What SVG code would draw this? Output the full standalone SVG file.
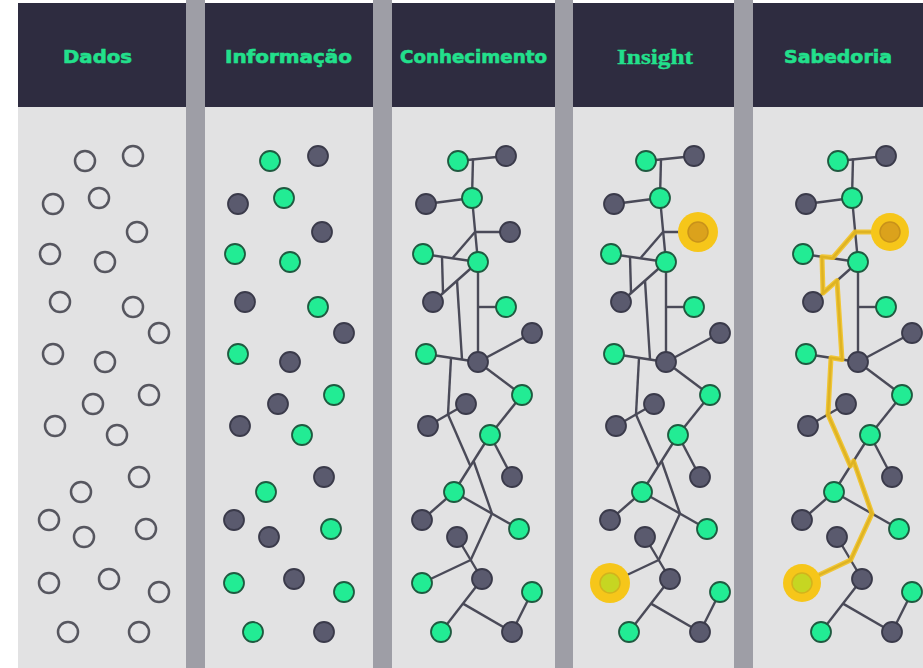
<svg xmlns="http://www.w3.org/2000/svg" width="923" height="668" viewBox="0 0 923 668">
<style>
.bg{fill:#ffffff}
.sep{fill:#9e9ea6}
.hdr{fill:#2e2c40}
.body{fill:#e2e2e3}
.ttl{font-family:"DejaVu Sans","Liberation Sans",sans-serif;font-weight:bold;font-size:18px;fill:#22e08c;stroke:#22e08c;stroke-width:0.6;text-anchor:middle}
.ttls{font-family:"Liberation Serif","DejaVu Serif",serif;font-weight:bold;font-size:22px;fill:#22e08c;stroke:#22e08c;stroke-width:0.4;text-anchor:middle}
.o{fill:#e4e4e6;stroke:#56565f;stroke-width:2.5}
.g{fill:#22ec94;stroke:#1f5a40;stroke-width:1.8}
.d{fill:#5a5a6e;stroke:#3a3a4a;stroke-width:1.8}
.edges{stroke:#4a4a58;stroke-width:2.4;fill:none}
.edges line{stroke:#4a4a58;stroke-width:2.4}
.halo{fill:#f6c61a}
.he{fill:#dba21c;stroke:#c8921a;stroke-width:1.5}
.hv{fill:#c6d622;stroke:#d2b41c;stroke-width:1.5}
.ypath{fill:none;stroke:#f3c11c;stroke-width:5;stroke-linejoin:round;opacity:0.88}
</style>

<g id="background">
<rect class="bg" x="0" y="0" width="923" height="668"/>
<rect class="sep" x="186" y="0" width="19" height="668"/>
<rect class="sep" x="373" y="0" width="19" height="668"/>
<rect class="sep" x="555" y="0" width="18" height="668"/>
<rect class="sep" x="734" y="0" width="19" height="668"/>
<rect class="body" x="18" y="107" width="168" height="561"/>
<rect class="body" x="205" y="107" width="168" height="561"/>
<rect class="body" x="392" y="107" width="163" height="561"/>
<rect class="body" x="573" y="107" width="161" height="561"/>
<rect class="body" x="753" y="107" width="170" height="561"/>
<rect class="hdr" x="18" y="3" width="168" height="104"/>
<rect class="hdr" x="205" y="3" width="168" height="104"/>
<rect class="hdr" x="392" y="3" width="163" height="104"/>
<rect class="hdr" x="573" y="3" width="161" height="104"/>
<rect class="hdr" x="753" y="3" width="170" height="104"/>
</g>

<g id="titles">
<text class="ttl" x="97.5" y="63" textLength="69" lengthAdjust="spacingAndGlyphs">Dados</text>
<text class="ttl" x="288.5" y="63" textLength="127" lengthAdjust="spacingAndGlyphs">Informação</text>
<text class="ttl" x="473.5" y="63" textLength="147" lengthAdjust="spacingAndGlyphs">Conhecimento</text>
<text class="ttls" x="655" y="64" textLength="76" lengthAdjust="spacingAndGlyphs">Insight</text>
<text class="ttl" x="838" y="63" textLength="108" lengthAdjust="spacingAndGlyphs">Sabedoria</text>
</g>

<g id="connectors">
<g id="edges-conhecimento" class="edges" transform="translate(373,0)">
<line x1="85" y1="161" x2="133" y2="156"/>
<line x1="100" y1="158.5" x2="99" y2="198"/>
<line x1="53" y1="204" x2="99" y2="198"/>
<line x1="99" y1="198" x2="105" y2="262"/>
<line x1="102" y1="232" x2="137" y2="232"/>
<line x1="102" y1="232" x2="80" y2="257.5"/>
<line x1="50" y1="254" x2="105" y2="262"/>
<line x1="69" y1="256.8" x2="70" y2="293"/>
<line x1="105" y1="262" x2="60" y2="302"/>
<line x1="84" y1="280.7" x2="89" y2="359.5"/>
<line x1="53" y1="354" x2="105" y2="362"/>
<line x1="105" y1="262" x2="105" y2="362"/>
<line x1="105" y1="307" x2="133" y2="307"/>
<line x1="105" y1="362" x2="159" y2="333"/>
<line x1="105" y1="362" x2="149" y2="395"/>
<line x1="78" y1="357.8" x2="75" y2="414.4"/>
<line x1="93" y1="404" x2="55" y2="426"/>
<line x1="75" y1="414.4" x2="97.4" y2="466"/>
<line x1="117" y1="435" x2="81" y2="492"/>
<line x1="100.6" y1="461" x2="119" y2="513.6"/>
<line x1="81" y1="492" x2="146" y2="529"/>
<line x1="119" y1="513.6" x2="97.7" y2="560"/>
<line x1="84" y1="537" x2="109" y2="579"/>
<line x1="49" y1="583" x2="97.7" y2="560"/>
<line x1="149" y1="395" x2="117" y2="435"/>
<line x1="117" y1="435" x2="139" y2="477"/>
<line x1="81" y1="492" x2="49" y2="520"/>
<line x1="109" y1="579" x2="68" y2="632"/>
<line x1="90" y1="603.6" x2="139" y2="632"/>
<line x1="139" y1="632" x2="159" y2="592"/>
</g>
<g id="edges-insight" class="edges" transform="translate(561,0)">
<line x1="85" y1="161" x2="133" y2="156"/>
<line x1="100" y1="158.5" x2="99" y2="198"/>
<line x1="53" y1="204" x2="99" y2="198"/>
<line x1="99" y1="198" x2="105" y2="262"/>
<line x1="102" y1="232" x2="137" y2="232"/>
<line x1="102" y1="232" x2="80" y2="257.5"/>
<line x1="50" y1="254" x2="105" y2="262"/>
<line x1="69" y1="256.8" x2="70" y2="293"/>
<line x1="105" y1="262" x2="60" y2="302"/>
<line x1="84" y1="280.7" x2="89" y2="359.5"/>
<line x1="53" y1="354" x2="105" y2="362"/>
<line x1="105" y1="262" x2="105" y2="362"/>
<line x1="105" y1="307" x2="133" y2="307"/>
<line x1="105" y1="362" x2="159" y2="333"/>
<line x1="105" y1="362" x2="149" y2="395"/>
<line x1="78" y1="357.8" x2="75" y2="414.4"/>
<line x1="93" y1="404" x2="55" y2="426"/>
<line x1="75" y1="414.4" x2="97.4" y2="466"/>
<line x1="117" y1="435" x2="81" y2="492"/>
<line x1="100.6" y1="461" x2="119" y2="513.6"/>
<line x1="81" y1="492" x2="146" y2="529"/>
<line x1="119" y1="513.6" x2="97.7" y2="560"/>
<line x1="84" y1="537" x2="109" y2="579"/>
<line x1="49" y1="583" x2="97.7" y2="560"/>
<line x1="149" y1="395" x2="117" y2="435"/>
<line x1="117" y1="435" x2="139" y2="477"/>
<line x1="81" y1="492" x2="49" y2="520"/>
<line x1="109" y1="579" x2="68" y2="632"/>
<line x1="90" y1="603.6" x2="139" y2="632"/>
<line x1="139" y1="632" x2="159" y2="592"/>
</g>
<g id="edges-sabedoria" class="edges" transform="translate(753,0)">
<line x1="85" y1="161" x2="133" y2="156"/>
<line x1="100" y1="158.5" x2="99" y2="198"/>
<line x1="53" y1="204" x2="99" y2="198"/>
<line x1="99" y1="198" x2="105" y2="262"/>
<line x1="102" y1="232" x2="137" y2="232"/>
<line x1="102" y1="232" x2="80" y2="257.5"/>
<line x1="50" y1="254" x2="105" y2="262"/>
<line x1="69" y1="256.8" x2="70" y2="293"/>
<line x1="105" y1="262" x2="60" y2="302"/>
<line x1="84" y1="280.7" x2="89" y2="359.5"/>
<line x1="53" y1="354" x2="105" y2="362"/>
<line x1="105" y1="262" x2="105" y2="362"/>
<line x1="105" y1="307" x2="133" y2="307"/>
<line x1="105" y1="362" x2="159" y2="333"/>
<line x1="105" y1="362" x2="149" y2="395"/>
<line x1="78" y1="357.8" x2="75" y2="414.4"/>
<line x1="93" y1="404" x2="55" y2="426"/>
<line x1="75" y1="414.4" x2="97.4" y2="466"/>
<line x1="117" y1="435" x2="81" y2="492"/>
<line x1="100.6" y1="461" x2="119" y2="513.6"/>
<line x1="81" y1="492" x2="146" y2="529"/>
<line x1="119" y1="513.6" x2="97.7" y2="560"/>
<line x1="84" y1="537" x2="109" y2="579"/>
<line x1="49" y1="583" x2="97.7" y2="560"/>
<line x1="149" y1="395" x2="117" y2="435"/>
<line x1="117" y1="435" x2="139" y2="477"/>
<line x1="81" y1="492" x2="49" y2="520"/>
<line x1="109" y1="579" x2="68" y2="632"/>
<line x1="90" y1="603.6" x2="139" y2="632"/>
<line x1="139" y1="632" x2="159" y2="592"/>
<polyline class="ypath" points="137,232 102,232 80,257.5 69,256.8 70,293 84,280.7 89,359.5 78,357.8 75,414.4 97.4,466 100.6,461 119,513.6 97.7,560 49,583"/>
</g>
</g>

<g id="panel-dados">
<g id="p1-A"><circle class="o" cx="85" cy="161" r="10"/></g>
<g id="p1-B"><circle class="o" cx="133" cy="156" r="10"/></g>
<g id="p1-C"><circle class="o" cx="53" cy="204" r="10"/></g>
<g id="p1-D"><circle class="o" cx="99" cy="198" r="10"/></g>
<g id="p1-E"><circle class="o" cx="137" cy="232" r="10"/></g>
<g id="p1-F"><circle class="o" cx="50" cy="254" r="10"/></g>
<g id="p1-G"><circle class="o" cx="105" cy="262" r="10"/></g>
<g id="p1-H"><circle class="o" cx="60" cy="302" r="10"/></g>
<g id="p1-I"><circle class="o" cx="133" cy="307" r="10"/></g>
<g id="p1-J"><circle class="o" cx="159" cy="333" r="10"/></g>
<g id="p1-K"><circle class="o" cx="53" cy="354" r="10"/></g>
<g id="p1-L"><circle class="o" cx="105" cy="362" r="10"/></g>
<g id="p1-M"><circle class="o" cx="149" cy="395" r="10"/></g>
<g id="p1-N"><circle class="o" cx="93" cy="404" r="10"/></g>
<g id="p1-O"><circle class="o" cx="55" cy="426" r="10"/></g>
<g id="p1-P"><circle class="o" cx="117" cy="435" r="10"/></g>
<g id="p1-Q"><circle class="o" cx="139" cy="477" r="10"/></g>
<g id="p1-R"><circle class="o" cx="81" cy="492" r="10"/></g>
<g id="p1-S"><circle class="o" cx="49" cy="520" r="10"/></g>
<g id="p1-T"><circle class="o" cx="84" cy="537" r="10"/></g>
<g id="p1-U"><circle class="o" cx="146" cy="529" r="10"/></g>
<g id="p1-V"><circle class="o" cx="49" cy="583" r="10"/></g>
<g id="p1-W"><circle class="o" cx="109" cy="579" r="10"/></g>
<g id="p1-X"><circle class="o" cx="159" cy="592" r="10"/></g>
<g id="p1-Y"><circle class="o" cx="68" cy="632" r="10"/></g>
<g id="p1-Z"><circle class="o" cx="139" cy="632" r="10"/></g>
</g>

<g id="panel-informacao" transform="translate(185,0)">
<g id="p2-A"><circle class="g" cx="85" cy="161" r="10"/></g>
<g id="p2-B"><circle class="d" cx="133" cy="156" r="10"/></g>
<g id="p2-C"><circle class="d" cx="53" cy="204" r="10"/></g>
<g id="p2-D"><circle class="g" cx="99" cy="198" r="10"/></g>
<g id="p2-E"><circle class="d" cx="137" cy="232" r="10"/></g>
<g id="p2-F"><circle class="g" cx="50" cy="254" r="10"/></g>
<g id="p2-G"><circle class="g" cx="105" cy="262" r="10"/></g>
<g id="p2-H"><circle class="d" cx="60" cy="302" r="10"/></g>
<g id="p2-I"><circle class="g" cx="133" cy="307" r="10"/></g>
<g id="p2-J"><circle class="d" cx="159" cy="333" r="10"/></g>
<g id="p2-K"><circle class="g" cx="53" cy="354" r="10"/></g>
<g id="p2-L"><circle class="d" cx="105" cy="362" r="10"/></g>
<g id="p2-M"><circle class="g" cx="149" cy="395" r="10"/></g>
<g id="p2-N"><circle class="d" cx="93" cy="404" r="10"/></g>
<g id="p2-O"><circle class="d" cx="55" cy="426" r="10"/></g>
<g id="p2-P"><circle class="g" cx="117" cy="435" r="10"/></g>
<g id="p2-Q"><circle class="d" cx="139" cy="477" r="10"/></g>
<g id="p2-R"><circle class="g" cx="81" cy="492" r="10"/></g>
<g id="p2-S"><circle class="d" cx="49" cy="520" r="10"/></g>
<g id="p2-T"><circle class="d" cx="84" cy="537" r="10"/></g>
<g id="p2-U"><circle class="g" cx="146" cy="529" r="10"/></g>
<g id="p2-V"><circle class="g" cx="49" cy="583" r="10"/></g>
<g id="p2-W"><circle class="d" cx="109" cy="579" r="10"/></g>
<g id="p2-X"><circle class="g" cx="159" cy="592" r="10"/></g>
<g id="p2-Y"><circle class="g" cx="68" cy="632" r="10"/></g>
<g id="p2-Z"><circle class="d" cx="139" cy="632" r="10"/></g>
</g>

<g id="panel-conhecimento" transform="translate(373,0)">
<g id="p3-A"><circle class="g" cx="85" cy="161" r="10"/></g>
<g id="p3-B"><circle class="d" cx="133" cy="156" r="10"/></g>
<g id="p3-C"><circle class="d" cx="53" cy="204" r="10"/></g>
<g id="p3-D"><circle class="g" cx="99" cy="198" r="10"/></g>
<g id="p3-E"><circle class="d" cx="137" cy="232" r="10"/></g>
<g id="p3-F"><circle class="g" cx="50" cy="254" r="10"/></g>
<g id="p3-G"><circle class="g" cx="105" cy="262" r="10"/></g>
<g id="p3-H"><circle class="d" cx="60" cy="302" r="10"/></g>
<g id="p3-I"><circle class="g" cx="133" cy="307" r="10"/></g>
<g id="p3-J"><circle class="d" cx="159" cy="333" r="10"/></g>
<g id="p3-K"><circle class="g" cx="53" cy="354" r="10"/></g>
<g id="p3-L"><circle class="d" cx="105" cy="362" r="10"/></g>
<g id="p3-M"><circle class="g" cx="149" cy="395" r="10"/></g>
<g id="p3-N"><circle class="d" cx="93" cy="404" r="10"/></g>
<g id="p3-O"><circle class="d" cx="55" cy="426" r="10"/></g>
<g id="p3-P"><circle class="g" cx="117" cy="435" r="10"/></g>
<g id="p3-Q"><circle class="d" cx="139" cy="477" r="10"/></g>
<g id="p3-R"><circle class="g" cx="81" cy="492" r="10"/></g>
<g id="p3-S"><circle class="d" cx="49" cy="520" r="10"/></g>
<g id="p3-T"><circle class="d" cx="84" cy="537" r="10"/></g>
<g id="p3-U"><circle class="g" cx="146" cy="529" r="10"/></g>
<g id="p3-V"><circle class="g" cx="49" cy="583" r="10"/></g>
<g id="p3-W"><circle class="d" cx="109" cy="579" r="10"/></g>
<g id="p3-X"><circle class="g" cx="159" cy="592" r="10"/></g>
<g id="p3-Y"><circle class="g" cx="68" cy="632" r="10"/></g>
<g id="p3-Z"><circle class="d" cx="139" cy="632" r="10"/></g>
</g>

<g id="panel-insight" transform="translate(561,0)">
<g id="p4-A"><circle class="g" cx="85" cy="161" r="10"/></g>
<g id="p4-B"><circle class="d" cx="133" cy="156" r="10"/></g>
<g id="p4-C"><circle class="d" cx="53" cy="204" r="10"/></g>
<g id="p4-D"><circle class="g" cx="99" cy="198" r="10"/></g>
<g id="p4-E"><circle class="halo" cx="137" cy="232" r="20"/><circle class="he" cx="137" cy="232" r="10"/></g>
<g id="p4-F"><circle class="g" cx="50" cy="254" r="10"/></g>
<g id="p4-G"><circle class="g" cx="105" cy="262" r="10"/></g>
<g id="p4-H"><circle class="d" cx="60" cy="302" r="10"/></g>
<g id="p4-I"><circle class="g" cx="133" cy="307" r="10"/></g>
<g id="p4-J"><circle class="d" cx="159" cy="333" r="10"/></g>
<g id="p4-K"><circle class="g" cx="53" cy="354" r="10"/></g>
<g id="p4-L"><circle class="d" cx="105" cy="362" r="10"/></g>
<g id="p4-M"><circle class="g" cx="149" cy="395" r="10"/></g>
<g id="p4-N"><circle class="d" cx="93" cy="404" r="10"/></g>
<g id="p4-O"><circle class="d" cx="55" cy="426" r="10"/></g>
<g id="p4-P"><circle class="g" cx="117" cy="435" r="10"/></g>
<g id="p4-Q"><circle class="d" cx="139" cy="477" r="10"/></g>
<g id="p4-R"><circle class="g" cx="81" cy="492" r="10"/></g>
<g id="p4-S"><circle class="d" cx="49" cy="520" r="10"/></g>
<g id="p4-T"><circle class="d" cx="84" cy="537" r="10"/></g>
<g id="p4-U"><circle class="g" cx="146" cy="529" r="10"/></g>
<g id="p4-V"><circle class="halo" cx="49" cy="583" r="20"/><circle class="hv" cx="49" cy="583" r="10"/></g>
<g id="p4-W"><circle class="d" cx="109" cy="579" r="10"/></g>
<g id="p4-X"><circle class="g" cx="159" cy="592" r="10"/></g>
<g id="p4-Y"><circle class="g" cx="68" cy="632" r="10"/></g>
<g id="p4-Z"><circle class="d" cx="139" cy="632" r="10"/></g>
</g>

<g id="panel-sabedoria" transform="translate(753,0)">
<g id="p5-A"><circle class="g" cx="85" cy="161" r="10"/></g>
<g id="p5-B"><circle class="d" cx="133" cy="156" r="10"/></g>
<g id="p5-C"><circle class="d" cx="53" cy="204" r="10"/></g>
<g id="p5-D"><circle class="g" cx="99" cy="198" r="10"/></g>
<g id="p5-E"><circle class="halo" cx="137" cy="232" r="19"/><circle class="he" cx="137" cy="232" r="10"/></g>
<g id="p5-F"><circle class="g" cx="50" cy="254" r="10"/></g>
<g id="p5-G"><circle class="g" cx="105" cy="262" r="10"/></g>
<g id="p5-H"><circle class="d" cx="60" cy="302" r="10"/></g>
<g id="p5-I"><circle class="g" cx="133" cy="307" r="10"/></g>
<g id="p5-J"><circle class="d" cx="159" cy="333" r="10"/></g>
<g id="p5-K"><circle class="g" cx="53" cy="354" r="10"/></g>
<g id="p5-L"><circle class="d" cx="105" cy="362" r="10"/></g>
<g id="p5-M"><circle class="g" cx="149" cy="395" r="10"/></g>
<g id="p5-N"><circle class="d" cx="93" cy="404" r="10"/></g>
<g id="p5-O"><circle class="d" cx="55" cy="426" r="10"/></g>
<g id="p5-P"><circle class="g" cx="117" cy="435" r="10"/></g>
<g id="p5-Q"><circle class="d" cx="139" cy="477" r="10"/></g>
<g id="p5-R"><circle class="g" cx="81" cy="492" r="10"/></g>
<g id="p5-S"><circle class="d" cx="49" cy="520" r="10"/></g>
<g id="p5-T"><circle class="d" cx="84" cy="537" r="10"/></g>
<g id="p5-U"><circle class="g" cx="146" cy="529" r="10"/></g>
<g id="p5-V"><circle class="halo" cx="49" cy="583" r="19"/><circle class="hv" cx="49" cy="583" r="10"/></g>
<g id="p5-W"><circle class="d" cx="109" cy="579" r="10"/></g>
<g id="p5-X"><circle class="g" cx="159" cy="592" r="10"/></g>
<g id="p5-Y"><circle class="g" cx="68" cy="632" r="10"/></g>
<g id="p5-Z"><circle class="d" cx="139" cy="632" r="10"/></g>
</g>
</svg>
